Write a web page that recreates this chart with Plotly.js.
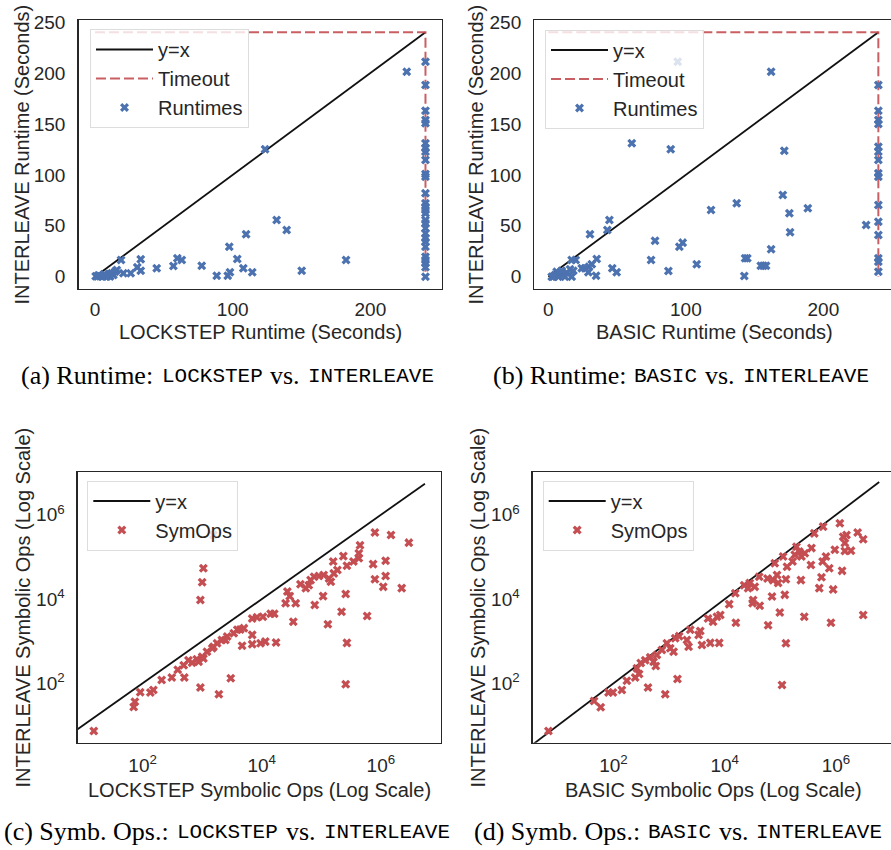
<!DOCTYPE html>
<html><head><meta charset="utf-8">
<script src="https://cdn.plot.ly/plotly-3.0.1.min.js"></script>
<style>body{margin:0;background:#fff}</style>
</head><body><div id="chart" style="width:891px;height:850px"></div>
<script>
// ---------- DATA ----------
const TIMEOUT = 240;
const runtimeTicks = [0, 50, 100, 150, 200, 250];
const runtimeXTicks = [0, 100, 200];
const logTickVals = [1e2, 1e4, 1e6];
const logTickText = ['10<sup>2</sup>', '10<sup>4</sup>', '10<sup>6</sup>'];

// (a) LOCKSTEP vs INTERLEAVE runtimes (seconds)
const lockstepRuntime = [226.4,123.5,131.9,139.2,109.7,97.5,103.3,107.7,114.2,98,96.4,88.4,77.5,182.3,150.1,59.8,63,56.9,44.8,33.2,33.2,30.7,25.9,18.9,20.6,15.8,
  0.5,1.7,3.6,5.6,7.3,8.9,10.9,12.1,13.3,14.5,10.4,8,2.5,6.5,
  240,240,240,240,240,240,240,240,240,240,240,240,240,240,240,240,240,240,240,240,240,240,240,240,240,240,240,240];
const interleaveRuntimeA = [201.3,125.1,55.7,45.9,41.7,29.5,17.5,8.3,4.4,4.4,1,1.1,10.9,16.5,6,18.1,16.5,10.6,8.3,17.2,6,9.3,3.4,16.5,3.4,6.7,
  0.5,0.2,0.8,0.3,1.8,0.6,0.2,3.4,1.8,5,2.7,0.2,1.5,2.5,
  211,188.2,163,153.9,150.6,131,126.1,122.8,114.6,100.9,98.2,81.9,72.1,68.8,65.6,62.3,55.7,52.5,47.6,42.7,37.8,34.4,29.5,19.7,16.5,13.2,9.3,0.1];

// (b) BASIC vs INTERLEAVE runtimes (seconds)
const basicRuntime = [94.1,162,60.7,89,171.6,170.5,137,188.7,118.3,175.3,231.1,175.8,44.4,42.9,30.3,77.6,97.7,95.3,162,74.7,143.1,144.7,107.9,154.5,156.4,158.3,87.3,142.5,46.5,49.7,35.2,34.7,31.6,29.6,26.7,24.3,29.1,17,19.9,18.2,17,
  2.5,4.9,6.1,8.5,10.9,13.4,7.3,3.6,12.1,9.7,15.8,
  240,240,240,240,240,240,240,240,240,240,240,240,240,240,240];
const interleaveRuntimeB = [211.1,201.3,131,125.1,123.7,80.3,72.1,67.2,65.6,62.3,50.8,43.7,55.7,45.9,41.7,35.4,33.5,29.5,27,16.5,18.1,18.1,12.3,10.9,10.9,10.9,5.7,0.8,8.3,4.4,17.5,1.1,12.3,9.9,8.3,8.3,4.4,16.5,16.5,6,0.1,
  0.1,1.8,5,3.4,2.7,4,0.1,0,0.1,6,7.4,
  188.2,163,153.9,149.9,127.7,122.8,114.6,101.5,98.2,70.4,54,41,18.1,14.8,5];

// (c) LOCKSTEP vs INTERLEAVE symbolic ops (log10 of count)
const lockstepOpsLog10 = [1.18,1.85,1.87,1.96,2.13,2.18,2.32,2.49,2.70,2.59,2.97,3.28,3.48,2.69,2.77,2.83,2.91,3.00,3.08,3.17,3.25,3.33,3.42,3.53,3.64,2.94,3.02,3.19,3.39,3.67,3.84,3.84,3.98,4.06,4.24,3.84,3.92,4.02,4.15,4.21,4.40,4.47,4.43,4.57,4.53,4.65,4.74,4.79,4.82,4.88,4.96,5.04,5.13,5.16,5.03,4.89,5.21,5.27,5.20,5.37,5.43,5.54,5.63,5.63,5.65,5.41,5.34,5.11,5.43,5.41,5.77,5.87,5.90,5.90,6.08,6.08,6.04,6.17,6.35,6.47,2.97,3.00,3.02,3.19,3.59,3.70];
const interleaveOpsLog10C = [0.87,1.44,1.56,1.79,1.78,1.84,2.08,2.14,2.14,2.32,1.90,1.74,2.12,2.43,2.55,2.49,2.57,2.63,2.75,2.83,2.95,3.03,3.11,3.19,3.28,2.51,2.59,2.87,3.03,2.89,3.15,2.93,2.95,2.99,2.97,3.54,3.57,3.58,3.65,3.65,3.90,4.07,4.18,3.90,3.46,4.35,4.26,4.33,4.45,4.53,4.55,4.57,4.49,4.41,4.07,3.86,4.61,4.69,4.89,5.02,4.79,4.89,4.97,5.09,5.28,4.12,3.70,3.40,2.96,1.98,3.60,4.83,4.47,5.58,4.91,4.55,4.29,5.52,4.26,5.34,3.98,4.40,4.73,5.52,3.27,3.31];

// (d) BASIC vs INTERLEAVE symbolic ops (log10 of count)
const basicOpsLog10 = [0.83,1.65,1.77,1.91,1.99,2.15,2.24,2.39,2.46,2.42,2.49,2.57,2.66,2.72,2.76,2.78,2.62,2.93,3.15,2.87,2.96,3.02,3.08,3.11,3.18,3.32,3.35,3.38,3.53,3.56,3.59,3.74,3.90,3.70,3.86,3.92,3.79,4.08,4.20,4.19,4.35,4.42,4.45,4.51,4.54,4.50,4.63,4.62,4.77,4.78,4.85,4.87,4.94,4.96,4.99,5.03,5.10,5.08,5.10,5.12,5.05,4.90,5.22,5.26,5.29,5.34,5.38,5.37,5.43,5.55,5.56,5.61,5.70,5.74,5.77,5.76,5.82,5.88,5.91,5.95,5.98,6.07,6.11,6.13,6.16,6.19,6.16,6.27,6.39,6.49,6.49,5.44];
const interleaveOpsLog10D = [0.87,1.58,1.43,1.78,1.78,1.84,2.06,2.14,2.22,2.36,2.48,2.55,2.62,2.51,2.41,2.67,1.90,1.74,2.10,2.79,2.95,2.83,2.75,3.07,3.12,3.03,2.87,3.27,3.15,3.24,2.91,2.96,2.96,3.54,3.58,3.62,3.46,3.88,3.44,4.14,4.33,4.26,4.38,3.98,4.29,3.90,3.84,4.53,4.49,3.38,4.06,4.45,4.57,4.38,3.68,1.96,2.95,4.10,4.47,4.77,5.01,4.85,4.89,5.05,5.24,5.13,5.01,4.45,3.58,4.81,5.21,5.56,4.26,4.52,5.72,4.89,5.01,4.73,3.44,4.23,5.17,5.80,4.67,5.48,5.33,5.52,5.14,5.15,5.58,5.42,3.62,5.09];

const diagRuntime = [0, 240];
const timeoutX = [0, 240, 240];
const timeoutY = [240, 240, 0];
const diagOpsC = [1, 5.5e6];
const diagOpsD = [1, 6.0e6];

// captions: [label, left method, right method]
const captionA = ['(a) Runtime:', 'LOCKSTEP', 'INTERLEAVE'];
const captionB = ['(b) Runtime:', 'BASIC', 'INTERLEAVE'];
const captionC = ['(c) Symb. Ops.:', 'LOCKSTEP', 'INTERLEAVE'];
const captionD = ['(d) Symb. Ops.:', 'BASIC', 'INTERLEAVE'];

// ---------- LAYOUT HELPERS ----------
const W = 891, H = 850;
const fx = p => p / W;
const fy = p => 1 - p / H;
const pow10 = a => a.map(v => Math.pow(10, v));

const BLUE = '#4C72B0', RED = '#C44E52', INK = '#262626';
const SANS = 'Liberation Sans, Arial, sans-serif';

function axisBase(extra) {
  return Object.assign({
    showline: true, linecolor: INK, linewidth: 1.25, mirror: true,
    ticks: '', showgrid: false, zeroline: false,
    tickfont: {family: SANS, size: 19, color: INK},
    fixedrange: true
  }, extra);
}

function legendBox(x, y) {
  return {x: fx(x), y: fy(y), xanchor: 'left', yanchor: 'top',
    bgcolor: 'rgba(255,255,255,0.8)', bordercolor: '#dddddd', borderwidth: 1,
    font: {family: SANS, size: 20, color: INK}, itemwidth: 57};
}

const lineDiag = (x, y, xa, ya, lg) => ({x, y, xaxis: xa, yaxis: ya, mode: 'lines', name: 'y=x',
  line: {color: '#111111', width: 1.8}, legend: lg, hoverinfo: 'skip'});
const lineTimeout = (xa, ya, lg) => ({x: timeoutX, y: timeoutY, xaxis: xa, yaxis: ya, mode: 'lines', name: 'Timeout',
  line: {color: RED, width: 2, dash: '10px,4px'}, opacity: 0.9, legend: lg, hoverinfo: 'skip'});
const pts = (x, y, xa, ya, lg, name, color) => ({x, y, xaxis: xa, yaxis: ya, mode: 'markers', name,
  marker: {symbol: 'x', size: 8, color, line: {width: 0}}, legend: lg, cliponaxis: true});

const data = [
  lineDiag(diagRuntime, diagRuntime, 'x', 'y', 'legend'),
  lineTimeout('x', 'y', 'legend'),
  pts(lockstepRuntime, interleaveRuntimeA, 'x', 'y', 'legend', 'Runtimes', BLUE),

  lineDiag(diagRuntime, diagRuntime, 'x2', 'y2', 'legend2'),
  lineTimeout('x2', 'y2', 'legend2'),
  pts(basicRuntime, interleaveRuntimeB, 'x2', 'y2', 'legend2', 'Runtimes', BLUE),

  lineDiag(diagOpsC, diagOpsC, 'x3', 'y3', 'legend3'),
  pts(pow10(lockstepOpsLog10), pow10(interleaveOpsLog10C), 'x3', 'y3', 'legend3', 'SymOps', RED),

  lineDiag(diagOpsD, diagOpsD, 'x4', 'y4', 'legend4'),
  pts(pow10(basicOpsLog10), pow10(interleaveOpsLog10D), 'x4', 'y4', 'legend4', 'SymOps', RED)
];

const topDom = [fy(289), fy(20)];
const botDom = [fy(742.7), fy(472.3)];

const titleFont = {family: SANS, size: 20, color: INK};

function ann(text, x, y, font, angle) {
  return {text, x: fx(x), y: fy(y), xref: 'paper', yref: 'paper', xanchor: 'center', yanchor: 'middle',
    showarrow: false, font, textangle: angle || 0};
}

// caption built from separately-fonted pieces, laid out with measured widths
const SERIF_F = {family: 'Liberation Serif', size: 26, color: '#000'};
const MONO_F = {family: 'Liberation Mono', size: 21, color: '#000'};
const ctx = document.createElement('canvas').getContext('2d');
function measure(t, f) { ctx.font = f.size + 'px "' + f.family + '"'; return ctx.measureText(t).width; }
const GAP = 8;
function captionAnns(cap, cx, cy) {
  const parts = [[cap[0], SERIF_F], [cap[1], MONO_F], ['vs.', SERIF_F], [cap[2], MONO_F]];
  const widths = parts.map(p => measure(p[0], p[1]));
  const total = widths.reduce((a, b) => a + b, 0) + GAP * (parts.length - 1);
  let x = cx - total / 2;
  const out = [];
  parts.forEach((p, i) => {
    const f = p[1];
    const baseAdj = 0.3465 * (SERIF_F.size - f.size);
    out.push({text: p[0], x: fx(x), y: fy(cy), xref: 'paper', yref: 'paper', xanchor: 'left', yanchor: 'middle',
      showarrow: false, font: f, borderpad: 0, yshift: -baseAdj, xshift: 0});
    x += widths[i] + GAP;
  });
  return out;
}

const layout = {
  width: W, height: H, margin: {l: 0, r: 0, t: 0, b: 0},
  paper_bgcolor: '#fff', plot_bgcolor: '#fff', showlegend: true,
  xaxis: axisBase({domain: [fx(78.5), fx(442)], range: [-12, 252], tickvals: runtimeXTicks, anchor: 'y', ticklabelstandoff: 3}),
  yaxis: axisBase({domain: topDom, range: [-12, 252], tickvals: runtimeTicks, anchor: 'x', ticklabelstandoff: 8}),
  xaxis2: axisBase({domain: [fx(534.3), 1], range: [-10.2, 249.2], tickvals: runtimeXTicks, anchor: 'y2', ticklabelstandoff: 3}),
  yaxis2: axisBase({domain: topDom, range: [-12, 252], tickvals: runtimeTicks, anchor: 'x2', mirror: false, ticklabelstandoff: 8}),
  xaxis3: axisBase({type: 'log', domain: [fx(77.7), fx(441)], range: [0.91, 7.01], tickvals: logTickVals, ticktext: logTickText, anchor: 'y3', ticklabelstandoff: 5}),
  yaxis3: axisBase({type: 'log', domain: botDom, range: [0.59, 7.01], tickvals: logTickVals, ticktext: logTickText, anchor: 'x3', ticklabelstandoff: 8}),
  xaxis4: axisBase({type: 'log', domain: [fx(532.7), 1], range: [0.547, 6.99], tickvals: logTickVals, ticktext: logTickText, anchor: 'y4', ticklabelstandoff: 5}),
  yaxis4: axisBase({type: 'log', domain: botDom, range: [0.59, 7.01], tickvals: logTickVals, ticktext: logTickText, anchor: 'x4', mirror: false, ticklabelstandoff: 8}),
  legend: legendBox(90, 29),
  legend2: legendBox(545, 29.5),
  legend3: legendBox(87.3, 480.5),
  legend4: legendBox(542.7, 480.5),
  annotations: [
    ann('LOCKSTEP Runtime (Seconds)', 260.2, 332, titleFont),
    ann('BASIC Runtime (Seconds)', 714.7, 332, titleFont),
    ann('LOCKSTEP Symbolic Ops (Log Scale)', 259.4, 790, titleFont),
    ann('BASIC Symbolic Ops (Log Scale)', 713.7, 790, titleFont),
    ann('INTERLEAVE Runtime (Seconds)', 21, 154.5, titleFont, -90),
    ann('INTERLEAVE Runtime (Seconds)', 475, 154.5, titleFont, -90),
    ann('INTERLEAVE Symbolic Ops (Log Scale)', 22, 607.5, titleFont, -90),
    ann('INTERLEAVE Symbolic Ops (Log Scale)', 477, 607.5, titleFont, -90)
  ].concat(
    captionAnns(captionA, 226.7, 375),
    captionAnns(captionB, 680, 375),
    captionAnns(captionC, 226, 831),
    captionAnns(captionD, 677, 831)
  )
};

Plotly.newPlot('chart', data, layout, {staticPlot: true, displayModeBar: false});
</script>
</body></html>
